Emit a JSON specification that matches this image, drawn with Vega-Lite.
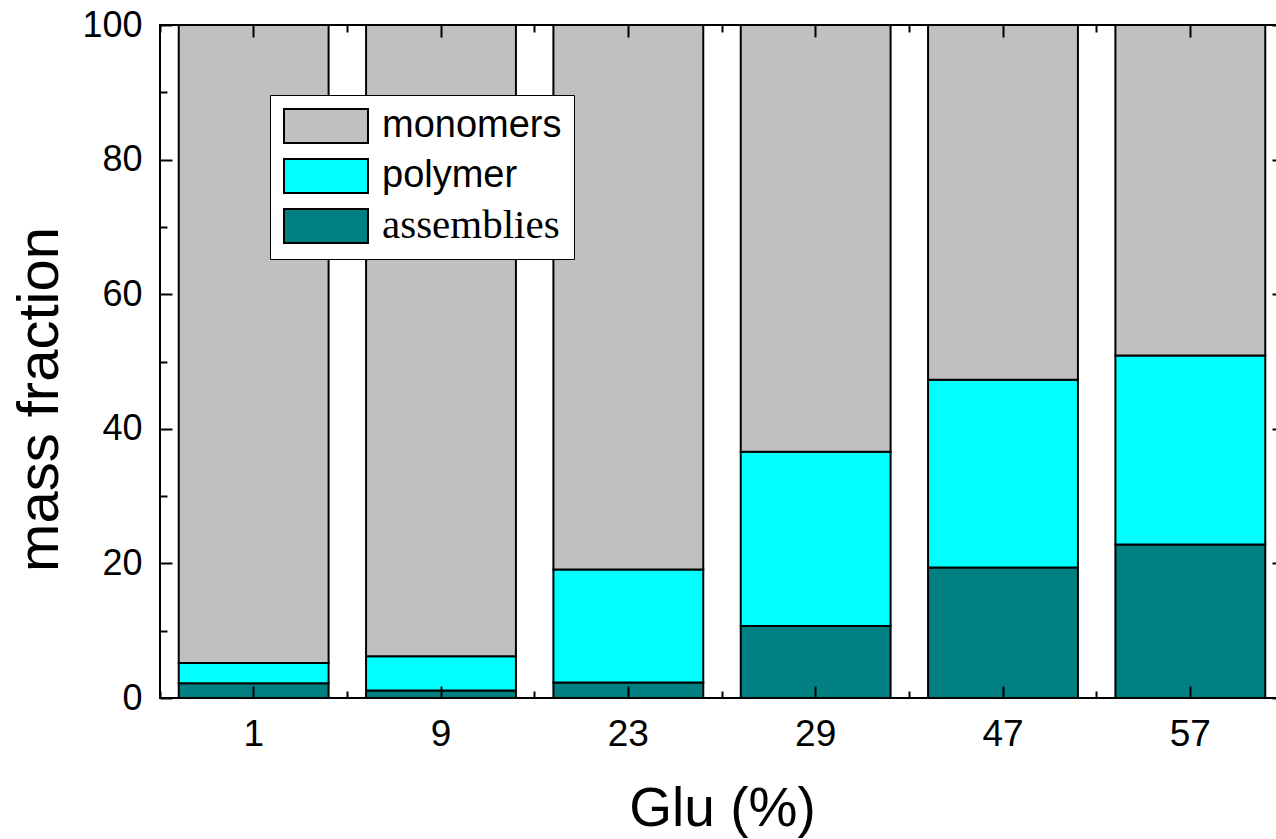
{
  "$schema": "https://vega.github.io/schema/vega-lite/v6.json",
  "width": 1124,
  "height": 673,
  "autosize": {"type": "none"},
  "padding": {"left": 160, "top": 25, "right": 0, "bottom": 141},
  "background": "white",
  "config": {
    "view": {"stroke": "black", "strokeWidth": 2},
    "font": "Liberation Sans",
    "axis": {"grid": false, "domain": false, "tickColor": "black", "tickWidth": 2, "labelColor": "black", "titleColor": "black", "labelFont": "Liberation Sans", "titleFont": "Liberation Sans"}
  },
  "data": {
    "values": [
      {"glu": 1, "component": "assemblies", "value": 2.2},
      {"glu": 1, "component": "polymer", "value": 3.0},
      {"glu": 1, "component": "monomers", "value": 94.8},
      {"glu": 9, "component": "assemblies", "value": 1.1},
      {"glu": 9, "component": "polymer", "value": 5.1},
      {"glu": 9, "component": "monomers", "value": 93.8},
      {"glu": 23, "component": "assemblies", "value": 2.3},
      {"glu": 23, "component": "polymer", "value": 16.8},
      {"glu": 23, "component": "monomers", "value": 80.9},
      {"glu": 29, "component": "assemblies", "value": 10.7},
      {"glu": 29, "component": "polymer", "value": 25.9},
      {"glu": 29, "component": "monomers", "value": 63.4},
      {"glu": 47, "component": "assemblies", "value": 19.4},
      {"glu": 47, "component": "polymer", "value": 27.9},
      {"glu": 47, "component": "monomers", "value": 52.7},
      {"glu": 57, "component": "assemblies", "value": 22.8},
      {"glu": 57, "component": "polymer", "value": 28.1},
      {"glu": 57, "component": "monomers", "value": 49.1}
    ]
  },
  "transform": [
    {"calculate": "indexof(['assemblies','polymer','monomers'], datum.component)", "as": "stackorder"}
  ],
  "layer": [
    {
      "mark": {"type": "bar", "stroke": "black", "strokeWidth": 2},
      "encoding": {
        "x": {"field": "glu", "type": "ordinal", "scale": {"paddingInner": 0.2, "paddingOuter": 0.1},
          "axis": {"orient": "bottom", "ticks": false, "labelPadding": 47, "labelBaseline": "alphabetic", "labelFontSize": 37, "labelAngle": 0,
            "title": "Glu (%)", "titleFontSize": 55, "titleFontWeight": "normal", "titleBaseline": "alphabetic", "titleY": 127}},
        "y": {"field": "value", "type": "quantitative", "stack": "zero", "scale": {"domain": [0, 100], "nice": false},
          "axis": {"orient": "left", "ticks": false, "values": [0, 20, 40, 60, 80, 100], "labelPadding": 18, "labelFontSize": 36,
            "title": "mass fraction", "titleFontSize": 58, "titleFontWeight": "normal", "titleAngle": -90, "titleX": -103, "titleY": 374, "titleBaseline": "alphabetic", "titleAlign": "center"}},
        "color": {"field": "component", "type": "nominal",
          "scale": {"domain": ["monomers", "polymer", "assemblies"], "range": ["#C0C0C0", "#00FFFF", "#008080"]},
          "legend": {"title": null, "orient": "none", "legendX": 110, "legendY": 70, "fillColor": "white", "strokeColor": "black", "padding": 12,
            "symbolType": "M-1,-1H3.94V1H-1Z", "symbolSize": 1156, "symbolStrokeColor": "black", "symbolStrokeWidth": 2, "symbolOpacity": 1,
            "labelFont": {"expr": "datum.label == 'assemblies' ? 'Liberation Serif' : 'Liberation Sans'"},
            "labelFontSize": {"expr": "datum.label == 'assemblies' ? 41 : 38"},
            "labelColor": "black", "labelOffset": 62, "rowPadding": 8, "labelLimit": 400}},
        "order": {"field": "stackorder", "type": "quantitative"}
      }
    },
    {
      "mark": {"type": "bar", "opacity": 0},
      "encoding": {
        "x": {"field": "glu", "type": "ordinal", "axis": {"orient": "bottom", "labels": false, "tickSize": -12, "title": null, "zindex": 1}},
        "y": {"field": "value", "type": "quantitative", "stack": "zero", "axis": {"orient": "left", "labels": false, "values": [0, 20, 40, 60, 80, 100], "tickSize": -12, "title": null, "zindex": 1}}
      }
    },
    {
      "mark": {"type": "bar", "opacity": 0},
      "encoding": {
        "x": {"field": "glu", "type": "ordinal", "axis": {"orient": "bottom", "labels": false, "bandPosition": -0.125, "tickSize": -7, "title": null, "zindex": 1}},
        "y": {"field": "value", "type": "quantitative", "stack": "zero", "axis": {"orient": "left", "labels": false, "values": [10, 30, 50, 70, 90], "tickSize": -7, "title": null, "zindex": 1}}
      }
    },
    {
      "mark": {"type": "bar", "opacity": 0},
      "encoding": {
        "x": {"field": "glu", "type": "ordinal", "axis": {"orient": "top", "labels": false, "tickSize": -12, "title": null, "zindex": 1}},
        "y": {"field": "value", "type": "quantitative", "stack": "zero", "axis": {"orient": "right", "labels": false, "values": [0, 20, 40, 60, 80, 100], "tickSize": -12, "title": null, "zindex": 1}}
      }
    },
    {
      "mark": {"type": "bar", "opacity": 0},
      "encoding": {
        "x": {"field": "glu", "type": "ordinal", "axis": {"orient": "top", "labels": false, "bandPosition": -0.125, "tickSize": -7, "title": null, "zindex": 1}},
        "y": {"field": "value", "type": "quantitative", "stack": "zero", "axis": {"orient": "right", "labels": false, "values": [10, 30, 50, 70, 90], "tickSize": -7, "title": null, "zindex": 1}}
      }
    }
  ],
  "resolve": {"axis": {"x": "independent", "y": "independent"}}
}
